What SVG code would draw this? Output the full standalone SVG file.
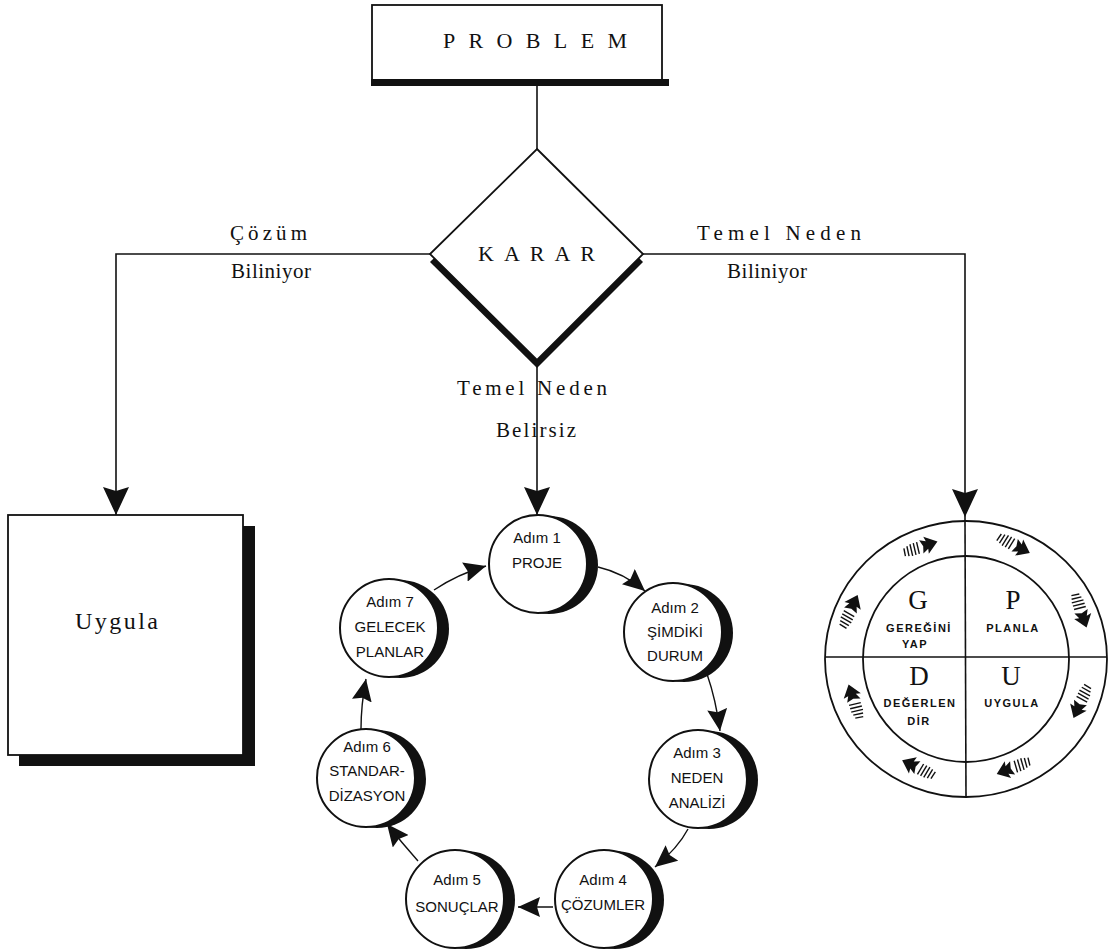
<svg xmlns="http://www.w3.org/2000/svg" width="1113" height="952" viewBox="0 0 1113 952">
  <style>
    .serif { font-family: "Liberation Serif", "Times New Roman", serif; fill: #111; }
    .sans { font-family: "Liberation Sans", Arial, sans-serif; fill: #111; }
    .step { font-size: 15px; text-anchor: middle; }
    .pdcaBig { font-size: 27px; text-anchor: middle; }
    .pdcaSmall { font-size: 11px; text-anchor: middle; font-weight: bold; }
    .edge { fill: none; stroke: #111; stroke-width: 1.6; }
    .thin { fill: none; stroke: #111; stroke-width: 1.4; }
    .box { fill: #fff; stroke: #111; stroke-width: 1.8; }
    .shadow { fill: #111; }
    .hatch { stroke: #111; stroke-width: 1.4; }
  </style>
  <defs>
    <marker id="bigArrow" markerUnits="userSpaceOnUse" viewBox="0 0 28 26" markerWidth="28" markerHeight="26" refX="28" refY="13" orient="auto">
      <path d="M0,0 L28,13 L0,26 L4,13 Z" fill="#111"/>
    </marker>
    <marker id="smallArrow" markerUnits="userSpaceOnUse" viewBox="0 0 22 20" markerWidth="22" markerHeight="20" refX="22" refY="10" orient="auto">
      <path d="M0,0 L22,10 L0,20 L3,10 Z" fill="#111"/>
    </marker>
    <!-- step bubble: black crescent behind a white disc -->
    <g id="bubble">
      <circle cx="11" cy="1" r="49" class="shadow"/>
      <circle cx="0" cy="0" r="49" fill="#fff" stroke="#111" stroke-width="2"/>
    </g>
    <!-- flow mark in the PDCA ring, pointing along +x -->
    <g id="ringArrow">
      <path d="M11,0 L-1,-9 L0,-4 L-6,-7 L-4,0 L-6,7 L0,4 L-1,9 Z" fill="#111"/>
      <line x1="-9" y1="-6" x2="-10" y2="6" class="hatch"/>
      <line x1="-12.5" y1="-6" x2="-13.5" y2="6" class="hatch"/>
      <line x1="-16" y1="-6" x2="-17" y2="6" class="hatch"/>
      <line x1="-19.5" y1="-5" x2="-20.5" y2="5" class="hatch"/>
      <line x1="-23" y1="-4" x2="-24" y2="4" class="hatch"/>
    </g>
  </defs>

  <rect width="1113" height="952" fill="#fff"/>

  <!-- connectors -->
  <g id="connectors">
    <line x1="537" y1="84" x2="537" y2="150" class="edge"/>
    <polyline points="432,254 116,254 116,515" class="edge" marker-end="url(#bigArrow)"/>
    <polyline points="641,254 965,254 965,517" class="edge" marker-end="url(#bigArrow)"/>
    <line x1="965" y1="517" x2="965" y2="521" class="edge"/>
    <line x1="537" y1="366" x2="537" y2="515" class="edge" marker-end="url(#bigArrow)"/>
    <!-- seven-step cycle -->
    <path d="M434,590 Q458,574 486,566" class="thin" marker-end="url(#smallArrow)"/>
    <path d="M598,567 Q624,573 645,591" class="thin" marker-end="url(#smallArrow)"/>
    <path d="M707,674 Q716,700 720,731" class="thin" marker-end="url(#smallArrow)"/>
    <path d="M688,829 Q678,848 655,867" class="thin" marker-end="url(#smallArrow)"/>
    <path d="M553,907 L518,907" class="thin" marker-end="url(#smallArrow)"/>
    <path d="M418,861 Q402,843 387,824" class="thin" marker-end="url(#smallArrow)"/>
    <path d="M361,729 Q361,705 366,679" class="thin" marker-end="url(#smallArrow)"/>
  </g>

  <!-- branch labels -->
  <g id="labels">
    <text class="serif" x="230" y="240" font-size="21" textLength="77" lengthAdjust="spacing">Çözüm</text>
    <text class="serif" x="231" y="278" font-size="21" textLength="80" lengthAdjust="spacing">Biliniyor</text>
    <text class="serif" x="697" y="240" font-size="21" textLength="164" lengthAdjust="spacing">Temel Neden</text>
    <text class="serif" x="727" y="278" font-size="21" textLength="80" lengthAdjust="spacing">Biliniyor</text>
    <text class="serif" x="457" y="395" font-size="21" textLength="150" lengthAdjust="spacing">Temel Neden</text>
    <text class="serif" x="496" y="437" font-size="21" textLength="80" lengthAdjust="spacing">Belirsiz</text>
  </g>

  <!-- problem box -->
  <g id="problem">
    <rect x="372" y="5" width="290" height="76" class="box"/>
    <rect x="371" y="79" width="298" height="7" class="shadow"/>
    <text class="serif" x="443" y="48" font-size="22" textLength="184" lengthAdjust="spacing">PROBLEM</text>
  </g>

  <!-- decision diamond -->
  <g id="karar">
    <polygon points="537,157 643,262 537,368 430,262" class="shadow"/>
    <polygon points="537,149 643,254 537,360 430,254" class="box"/>
    <text class="serif" x="478" y="261" font-size="22" textLength="117" lengthAdjust="spacing">KARAR</text>
  </g>

  <!-- direct solution box -->
  <g id="uygula">
    <rect x="19" y="526" width="236" height="240" class="shadow"/>
    <rect x="8" y="515" width="235" height="240" class="box"/>
    <text class="serif" x="75" y="629" font-size="24" textLength="83" lengthAdjust="spacing">Uygula</text>
  </g>

  <!-- seven steps -->
  <g id="adim1">
    <use href="#bubble" x="538" y="564"/>
    <text class="sans step" x="537" y="543">Adım 1</text>
    <text class="sans step" x="537" y="568">PROJE</text>
  </g>
  <g id="adim2">
    <use href="#bubble" x="673" y="632"/>
    <text class="sans step" x="675" y="613">Adım 2</text>
    <text class="sans step" x="675" y="637">ŞİMDİKİ</text>
    <text class="sans step" x="675" y="661">DURUM</text>
  </g>
  <g id="adim3">
    <use href="#bubble" x="698" y="779"/>
    <text class="sans step" x="697" y="758">Adım 3</text>
    <text class="sans step" x="697" y="783">NEDEN</text>
    <text class="sans step" x="697" y="808">ANALİZİ</text>
  </g>
  <g id="adim4">
    <use href="#bubble" x="604" y="899"/>
    <text class="sans step" x="603" y="885">Adım 4</text>
    <text class="sans step" x="603" y="910">ÇÖZUMLER</text>
  </g>
  <g id="adim5">
    <use href="#bubble" x="455" y="899"/>
    <text class="sans step" x="457" y="885">Adım 5</text>
    <text class="sans step" x="457" y="912">SONUÇLAR</text>
  </g>
  <g id="adim6">
    <use href="#bubble" x="366" y="778"/>
    <text class="sans step" x="367" y="752">Adım 6</text>
    <text class="sans step" x="367" y="776">STANDAR-</text>
    <text class="sans step" x="367" y="801">DİZASYON</text>
  </g>
  <g id="adim7">
    <use href="#bubble" x="389" y="628"/>
    <text class="sans step" x="390" y="607">Adım 7</text>
    <text class="sans step" x="390" y="632">GELECEK</text>
    <text class="sans step" x="390" y="657">PLANLAR</text>
  </g>

  <!-- PDCA wheel -->
  <g id="pdca">
    <ellipse cx="966" cy="659" rx="141" ry="138" fill="#fff" stroke="#111" stroke-width="1.8"/>
    <circle cx="966" cy="659" r="103" fill="none" stroke="#111" stroke-width="1.8"/>
    <line x1="965" y1="521" x2="966" y2="797" class="edge"/>
    <line x1="825" y1="657" x2="1107" y2="657" class="edge"/>
    <text class="serif pdcaBig" x="918" y="609">G</text>
    <text class="sans pdcaSmall" x="919" y="632" letter-spacing="1.5">GEREĞİNİ</text>
    <text class="sans pdcaSmall" x="915" y="648" letter-spacing="1.5">YAP</text>
    <text class="serif pdcaBig" x="1013" y="609">P</text>
    <text class="sans pdcaSmall" x="1013" y="632" letter-spacing="1.5">PLANLA</text>
    <text class="serif pdcaBig" x="919" y="685">D</text>
    <text class="sans pdcaSmall" x="920" y="707" letter-spacing="1.5">DEĞERLEN</text>
    <text class="sans pdcaSmall" x="919" y="725" letter-spacing="1.5">DİR</text>
    <text class="serif pdcaBig" x="1011" y="685">U</text>
    <text class="sans pdcaSmall" x="1012" y="707" letter-spacing="1.5">UYGULA</text>
    <!-- clockwise flow marks round the ring -->
    <use href="#ringArrow" transform="translate(927,545) rotate(-18)"/>
    <use href="#ringArrow" transform="translate(1020,548) rotate(27)"/>
    <use href="#ringArrow" transform="translate(1083,617) rotate(71)"/>
    <use href="#ringArrow" transform="translate(1078,708) rotate(114)"/>
    <use href="#ringArrow" transform="translate(1007,770) rotate(159)"/>
    <use href="#ringArrow" transform="translate(912,765) rotate(206)"/>
    <use href="#ringArrow" transform="translate(852,695) rotate(252)"/>
    <use href="#ringArrow" transform="translate(853,605) rotate(295)"/>
  </g>
</svg>
